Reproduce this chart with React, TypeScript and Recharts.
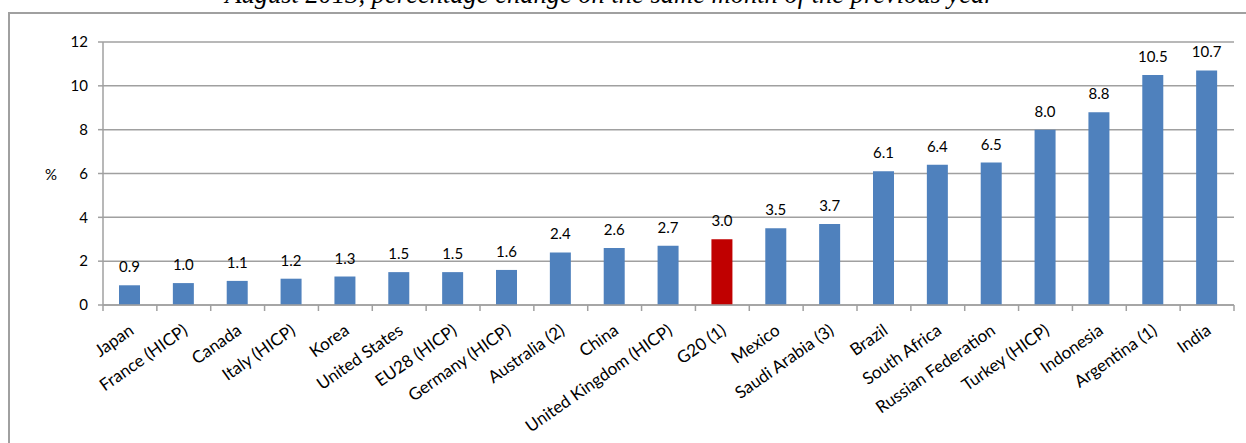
import React from 'react';
import { BarChart, Bar, XAxis, YAxis, CartesianGrid, Cell, LabelList } from 'recharts';

const categories = [
  'Japan', 'France (HICP)', 'Canada', 'Italy (HICP)', 'Korea', 'United States',
  'EU28 (HICP)', 'Germany (HICP)', 'Australia (2)', 'China', 'United Kingdom (HICP)',
  'G20 (1)', 'Mexico', 'Saudi Arabia (3)', 'Brazil', 'South Africa',
  'Russian Federation', 'Turkey (HICP)', 'Indonesia', 'Argentina (1)', 'India',
];
const values = [0.9, 1.0, 1.1, 1.2, 1.3, 1.5, 1.5, 1.6, 2.4, 2.6, 2.7, 3.0, 3.5, 3.7, 6.1, 6.4, 6.5, 8.0, 8.8, 10.5, 10.7];
const highlighted = ['G20 (1)'];
const yTicks = [0, 2, 4, 6, 8, 10, 12];

const title = 'August 2013, percentage change on the same month of the previous year';
const unitLabel = '%';

const BLUE = '#4F81BD';
const RED = '#C00000';
const GRID = '#a0a0a0';
const FONT = 'Lato, "Open Sans", sans-serif';

const W = 1246;
const H = 443;
const MARGIN = { top: 42, right: 12, bottom: 0, left: 0 };
const Y_AXIS_W = 103;
const X_AXIS_H = 138;
const PLOT_W = W - MARGIN.left - MARGIN.right - Y_AXIS_W;

const data = categories.map((name, i) => ({ name, value: values[i] }));

const XTick = (props: any) => {
  const { x, y, payload, index } = props;
  const band = PLOT_W / categories.length;
  const lx = x - band / 2;
  const rx = x + band / 2;
  const ax = x + 5;
  const ay = y + 28;
  return (
    <g>
      <line x1={lx} y1={y} x2={lx} y2={y + 6} stroke={GRID} strokeWidth={1.5} />
      {index === categories.length - 1 && (
        <line x1={rx} y1={y} x2={rx} y2={y + 6} stroke={GRID} strokeWidth={1.5} />
      )}
      <text
        x={ax}
        y={ay}
        textAnchor="end"
        fontSize={17}
        fontFamily={FONT}
        fill="#000"
        transform={`rotate(-35, ${ax}, ${ay})`}
      >
        {payload.value}
      </text>
    </g>
  );
};

export default function App() {
  return (
    <div style={{ position: 'absolute', left: 0, top: 0, width: W, height: H, overflow: 'hidden', background: '#fff' }}>
      <svg width={W} height={H} style={{ position: 'absolute', left: 0, top: 0 }}>
        <rect x={9} y={13} width={W + 20} height={H + 20} fill="none" stroke={GRID} strokeWidth={2} />
        <text x={610} y={3} textAnchor="middle" fontSize={26.5} fontStyle="italic" fontFamily='"Liberation Serif", "Times New Roman", serif' fill="#000">
          {title}
        </text>
        <text x={51} y={180} textAnchor="middle" fontSize={15} fontFamily={FONT} fill="#000">
          {unitLabel}
        </text>
      </svg>
      <div style={{ position: 'absolute', left: 0, top: 0 }}>
        <BarChart width={W} height={H} data={data} margin={MARGIN} barSize={21}>
          <CartesianGrid horizontal vertical={false} stroke={GRID} strokeWidth={1.5} />
          <XAxis
            dataKey="name"
            interval={0}
            height={X_AXIS_H}
            tickLine={false}
            tickSize={0}
            tickMargin={0}
            axisLine={{ stroke: GRID, strokeWidth: 1.5 }}
            tick={<XTick />}
          />
          <YAxis
            domain={[0, 12]}
            ticks={yTicks}
            width={Y_AXIS_W}
            tickSize={5}
            tickMargin={10}
            axisLine={{ stroke: GRID, strokeWidth: 1.5 }}
            tickLine={{ stroke: GRID, strokeWidth: 1.5 }}
            tick={{ fontSize: 15, fontFamily: FONT, fill: '#000' }}
          />
          <Bar dataKey="value" isAnimationActive={false}>
            {data.map((d) => (
              <Cell key={d.name} fill={highlighted.includes(d.name) ? RED : BLUE} />
            ))}
            <LabelList
              dataKey="value"
              position="top"
              offset={13}
              formatter={(v: any) => Number(v).toFixed(1)}
              style={{ fontSize: 15, fontFamily: FONT, fill: '#000' }}
            />
          </Bar>
        </BarChart>
      </div>
    </div>
  );
}
